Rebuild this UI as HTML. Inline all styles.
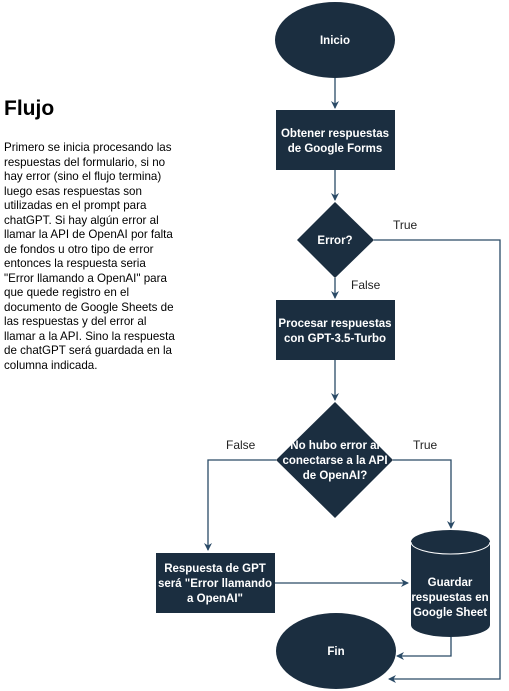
<!DOCTYPE html>
<html><head><meta charset="utf-8"><style>
body{margin:0;width:509px;height:691px;background:#fff;overflow:hidden;font-family:"Liberation Sans",Arial,sans-serif;position:relative}
#t{position:absolute;left:4px;top:97px;width:260px}
#t h1{margin:0;font-size:21px;font-weight:bold;color:#000}
#t p{margin:20px 0 0;font-size:11.6px;line-height:14.5px;color:#000;white-space:nowrap}
</style></head><body>
<svg width="509" height="691" style="position:absolute;left:0;top:0" font-family="Liberation Sans, Arial, sans-serif">
<defs><marker id="a" markerWidth="8" markerHeight="8" refX="7" refY="4" orient="auto" markerUnits="userSpaceOnUse"><path d="M0,0 L8,4 L0,8 L2.5,4 z" fill="#2a4a66"/></marker></defs>
<g stroke="#2a4a66" stroke-width="1.3" fill="none" marker-end="url(#a)">
<path d="M335,78 V108"/>
<path d="M335,170 V200"/>
<path d="M335,278 V298"/>
<path d="M335,360 V400"/>
<path d="M374,240 H500 V679 H389"/>
<path d="M276,460 H208 V550"/>
<path d="M393,460 H451 V528"/>
<path d="M275,583 H408"/>
<path d="M451,637 V656 H397"/>
</g>
<g fill="#1b2e40">
<ellipse cx="335" cy="40" rx="60" ry="38"/>
<rect x="276" y="110" width="119" height="60"/>
<path d="M335,202 L374,240 L335,278 L297,240 z"/>
<rect x="276" y="300" width="119" height="60"/>
<path d="M335,402 L393,460 L335,518 L276,460 z"/>
<rect x="156" y="553" width="119" height="60"/>
<path d="M411,542 A39.5,12 0 0 1 490,542 V625 A39.5,12 0 0 1 411,625 z"/>
<ellipse cx="336" cy="651" rx="60" ry="38"/>
</g>
<path d="M411,542 A39.5,12 0 0 0 490,542" stroke="#fff" stroke-width="1" fill="none"/>
<g fill="#fff" font-size="11.5" font-weight="bold" text-anchor="middle">
<text x="335" y="44">Inicio</text>
<text x="335" y="137">Obtener respuestas</text><text x="335" y="152">de Google Forms</text>
<text x="335" y="244">Error?</text>
<text x="335" y="327">Procesar respuestas</text><text x="335" y="342">con GPT-3.5-Turbo</text>
<text x="335" y="449">No hubo error al</text><text x="335" y="464">conectarse a la API</text><text x="335" y="479">de OpenAI?</text>
<text x="215" y="572">Respuesta de GPT</text><text x="215" y="587">será "Error llamando</text><text x="215" y="602">a OpenAI"</text>
<text x="450" y="586">Guardar</text><text x="450" y="601">respuestas en</text><text x="450" y="616">Google Sheet</text>
<text x="336" y="655">Fin</text>
</g>
<g fill="#222" font-size="12">
<text x="393" y="229">True</text>
<text x="351" y="289">False</text>
<text x="226" y="449">False</text>
<text x="413" y="449">True</text>
</g>
</svg>
<div id="t"><h1>Flujo</h1><p>Primero se inicia procesando las<br>respuestas del formulario, si no<br>hay error (sino el flujo termina)<br>luego esas respuestas son<br>utilizadas en el prompt para<br>chatGPT. Si hay algún error al<br>llamar la API de OpenAI por falta<br>de fondos u otro tipo de error<br>entonces la respuesta seria<br>"Error llamando a OpenAI" para<br>que quede registro en el<br>documento de Google Sheets de<br>las respuestas y del error al<br>llamar a la API. Sino la respuesta<br>de chatGPT será guardada en la<br>columna indicada.</p></div>
</body></html>
